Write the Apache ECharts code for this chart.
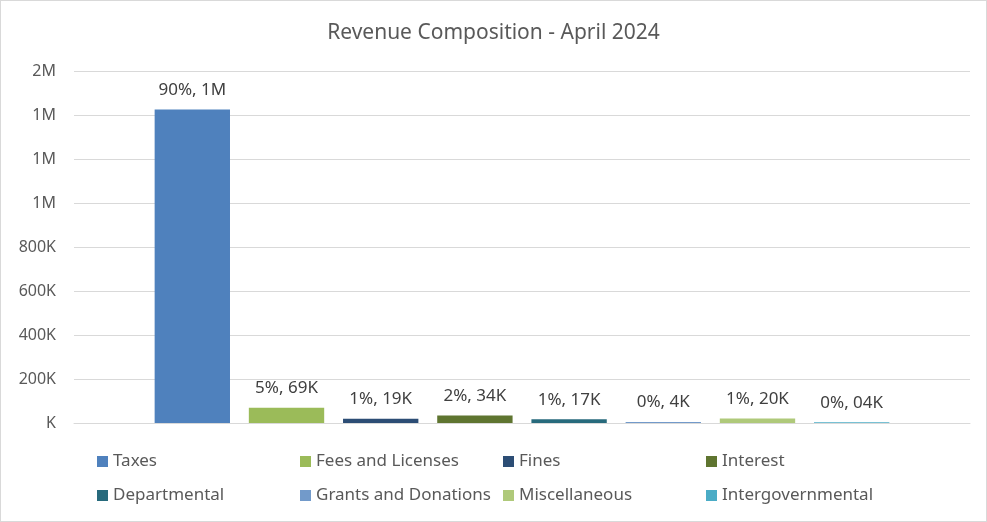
<!DOCTYPE html>
<html>
<head>
<meta charset="utf-8">
<script src="https://cdn.jsdelivr.net/npm/echarts@6/dist/echarts.min.js"></script>
<style>
    html, body { margin: 0; padding: 0; background: #fff; }
    #myChart { width: 985px; height: 520px; border: 1px solid #d9d9d9; }
</style>
</head>
<body>
<div id="myChart"></div>
<script>
    // revenue by source, april 2024
    var categories = ['Taxes', 'Fees and Licenses', 'Fines', 'Interest',
        'Departmental', 'Grants and Donations', 'Miscellaneous', 'Intergovernmental'];
    var values = [1425000, 69000, 19000, 34000, 17000, 4000, 20000, 3000];
    var percents = [90, 5, 1, 2, 1, 0, 1, 0];
    var valueLabels = ['1M', '69K', '19K', '34K', '17K', '4K', '20K', '04K'];
    var yTicks = [0, 200000, 400000, 600000, 800000, 1000000, 1200000, 1400000, 1600000];
    var colors = ['#4F81BD', '#9BBB59', '#2C4D75', '#5F7530', '#276A7C', '#729ACA', '#AFC97A', '#4BACC6'];

    var font = 'Noto Sans';
    var myChart = echarts.init(document.getElementById('myChart'));

    var series = [];
    for (var i = 0; i < categories.length; i++) {
        series.push({
            name: categories[i],
            type: 'bar',
            data: [values[i]],
            itemStyle: {color: colors[i]},
            barGap: '25%',
            barCategoryGap: '18%',
            label: {
                show: true,
                position: 'top',
                distance: 11,
                fontFamily: font,
                fontSize: 17,
                color: '#404040',
                formatter: (function (k) {
                    return function () {
                        return percents[k] + '%, ' + valueLabels[k];
                    };
                })(i)
            }
        });
    }

    myChart.setOption({
        animation: false,
        title: {
            text: 'Revenue Composition - April 2024',
            left: 'center',
            top: 17,
            textStyle: {fontFamily: font, fontSize: 21, fontWeight: 'normal', color: '#595959'}
        },
        grid: {left: 73, right: 16, top: 70, bottom: 98},
        legend: {
            data: categories,
            left: 91,
            top: 442,
            width: 860,
            itemWidth: 11,
            itemHeight: 11,
            itemGap: 7,
            icon: 'rect',
            textStyle: {fontFamily: font, fontSize: 17, color: '#595959', width: 180, lineHeight: 27}
        },
        xAxis: {
            type: 'category',
            data: [''],
            axisLine: {lineStyle: {color: '#d9d9d9'}},
            axisTick: {show: false},
            axisLabel: {show: false}
        },
        yAxis: {
            type: 'value',
            min: yTicks[0],
            max: yTicks[yTicks.length - 1],
            interval: yTicks[1] - yTicks[0],
            axisLine: {show: false},
            axisTick: {show: false},
            splitLine: {lineStyle: {color: '#d9d9d9'}},
            axisLabel: {
                fontFamily: font,
                fontSize: 16,
                color: '#595959',
                margin: 18,
                formatter: function (v) {
                    if (v === 0) return 'K';
                    if (v < 1000000) return (v / 1000) + 'K';
                    return Math.round(v / 1000000) + 'M';
                }
            }
        },
        series: series
    });
</script>
</body>
</html>
